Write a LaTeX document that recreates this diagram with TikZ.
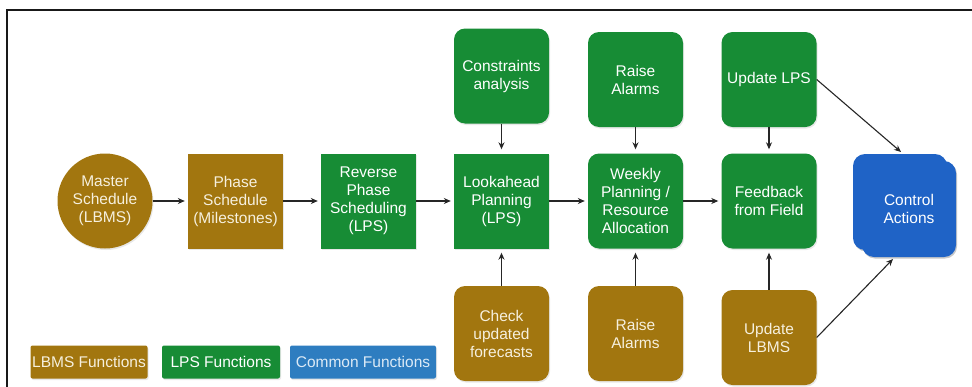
\documentclass[tikz,border=0pt]{standalone}
\usepackage{fontspec}
\setmainfont{Liberation Sans}
\usetikzlibrary{arrows.meta,shadows}
\definecolor{lbms}{HTML}{A2760F}
\definecolor{lps}{HTML}{178C35}
\definecolor{ctrl}{HTML}{1F63C6}
\definecolor{common}{HTML}{2E7DC0}
\definecolor{cream}{HTML}{F6F0DE}
\definecolor{paleblue}{HTML}{DCEAF6}
\begin{document}
\begin{tikzpicture}[x=1pt,y=-1pt,
  every node/.style={font=\fontsize{15.5}{18}\selectfont, align=center, inner sep=0pt},
  box/.style={minimum width=95pt, minimum height=95pt, text=white,
    drop shadow={shadow xshift=1pt, shadow yshift=-1.5pt, opacity=0.18}},
  lbmsbox/.style={box, fill=lbms, text=cream},
  lpsbox/.style={box, fill=lps},
  soft/.style={rounded corners=11pt},
  ctrlbox/.style={box, fill=ctrl, minimum width=94pt, minimum height=96pt, rounded corners=12pt,
    drop shadow={shadow xshift=1pt, shadow yshift=-1.5pt, opacity=0.3}},
  legend/.style={minimum height=33pt, rounded corners=2pt,
    drop shadow={shadow xshift=1pt, shadow yshift=-1.5pt, opacity=0.18}},
  flow/.style={-{Stealth[length=7pt,width=6pt]}, line width=1.1pt, black!85},
]
\useasboundingbox (0,0) rectangle (972,386);
\clip (0,0) rectangle (972,386);

% outer frame (open towards the right and bottom)
\draw[line width=2pt, black!90] (7,400) -- (7,10) -- (990,10);

% main flow
\node[lbmsbox, circle, minimum size=95pt] (ms) at (105,201) {Master\\Schedule\\(LBMS)};
\node[lbmsbox] (ph) at (235.5,201) {Phase\\Schedule\\(Milestones)};
\node[lpsbox] (rps) at (368.5,201) {Reverse\\Phase\\Scheduling\\(LPS)};
\node[lpsbox] (lap) at (501.5,201) {Lookahead\\Planning\\(LPS)};
\node[lpsbox, soft] (wp) at (635.5,201) {Weekly\\Planning /\\Resource\\Allocation};
\node[lpsbox, soft] (fb) at (769,201) {Feedback\\from Field};

% upper inputs
\node[lpsbox, soft] (con) at (501.5,76) {Constraints\\analysis};
\node[lpsbox, soft] (ra1) at (635.5,79.5) {Raise\\Alarms};
\node[lpsbox, soft] (ulps) at (769,79.5) {Update LPS};

% lower inputs
\node[lbmsbox, soft] (chk) at (501.5,333.5) {Check\\updated\\forecasts};
\node[lbmsbox, soft] (ra2) at (635.5,333.5) {Raise\\Alarms};
\node[lbmsbox, soft] (ulbms) at (769,337.5) {Update\\LBMS};

% control actions (stacked)
\node[ctrlbox] (cab) at (900,202) {};
\node[ctrlbox] (caf) at (909,209) {Control\\Actions};

% legend
\node[legend, fill=lbms, text=cream, minimum width=117pt] (lg1) at (89,362) {LBMS Functions};
\node[legend, fill=lps, text=white, minimum width=118pt] (lg2) at (221,362) {LPS Functions};
\node[legend, fill=common, text=paleblue, minimum width=146pt] (lg3) at (363,362) {Common Functions};

% connectors
\draw[flow, shorten >=3pt] (ms) -- (ph);
\draw[flow, shorten >=3pt] (ph) -- (rps);
\draw[flow, shorten >=3pt] (rps) -- (lap);
\draw[flow, shorten >=3pt] (lap) -- (wp);
\draw[flow, shorten >=3pt] (wp) -- (fb);

\draw[flow, shorten >=4pt] (con) -- (lap);
\draw[flow, shorten >=4pt] (ra1) -- (wp);
\draw[flow, shorten >=4pt] (ulps) -- (fb);
\draw[flow, shorten >=4pt] (chk) -- (lap);
\draw[flow, shorten >=4pt] (ra2) -- (wp);
\draw[flow, shorten >=4pt] (ulbms) -- (fb);

\coordinate (catop) at (901,152);
\coordinate (cabot) at (893,259);
\draw[flow] (ulps.east) -- (catop);
\draw[flow] (ulbms.east) -- (cabot);
\end{tikzpicture}
\end{document}
